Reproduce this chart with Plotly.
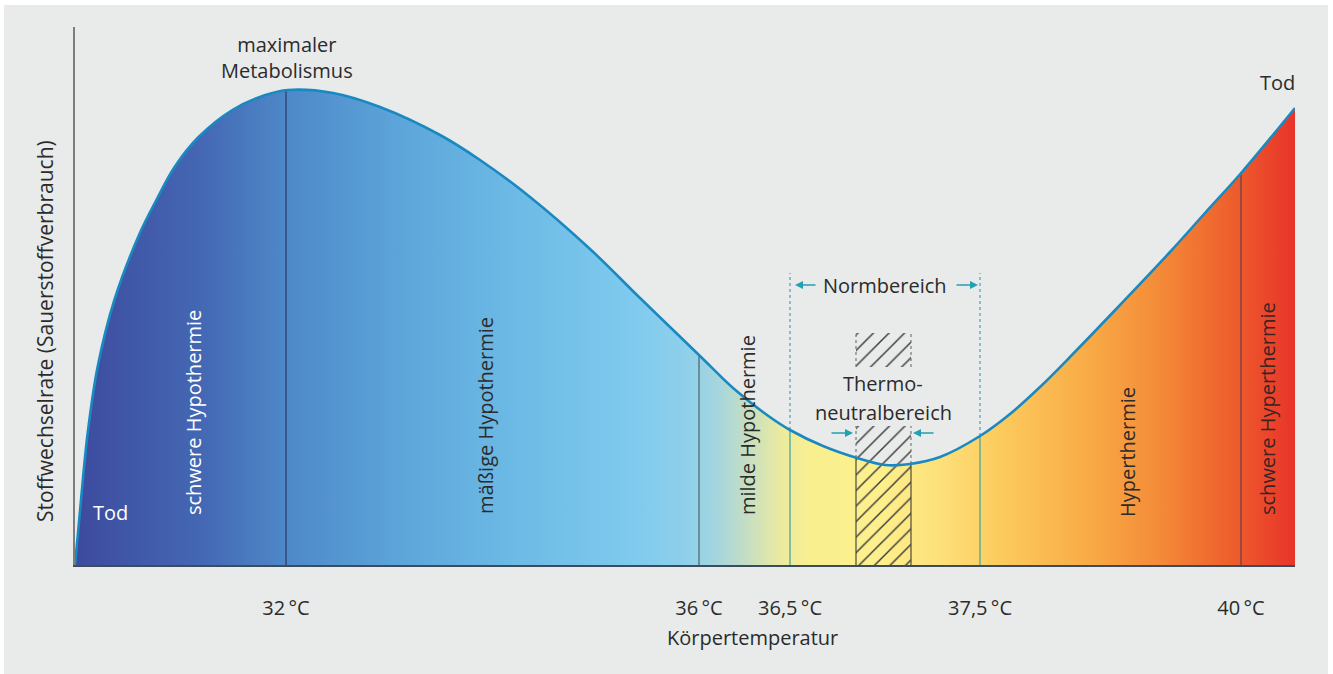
import plotly.graph_objects as go

# ---- data (schematic units: position along temperature axis, metabolic rate) ----
curve_pos = [0, 3, 6, 12.7, 22.6, 39.4, 64.9, 81.4, 99.6, 123.6, 157.4, 190.4, 213, 258, 305, 365,
             405, 455, 515, 565, 625, 658, 692, 715, 748, 782, 810, 835, 865, 905, 935, 965, 995,
             1045, 1095, 1130, 1167, 1220]
curve_rate = [0, 32, 65, 132, 198, 265, 332, 365, 398, 428, 455, 470, 475, 472, 458, 430,
              405, 368, 316, 267, 209, 177, 150, 135, 119, 107, 100, 101, 108, 129, 151, 178, 208,
              260, 313, 352, 393, 457]

temp_pos = [211, 624, 715, 905, 1166]
temp_labels = ["32\u2009°C", "36\u2009°C", "36,5\u2009°C", "37,5\u2009°C", "40\u2009°C"]
temp_line_top = [475, 209, 135, 129, 393]
temp_line_colors = ["#2e3f66", "#4f6a72", "#45a8a3", "#45a8a3", "#6a4545"]
tick_bottom = -20

norm_pos = [715, 905]
norm_top = 292
norm_curve = [135, 129]

tn_x = [781, 836]
tn_lower = [0, 139]
tn_upper = [198, 232]
tn_curve = [107, 101]

fill_stops = [0.0, 0.102, 0.173, 0.266, 0.365, 0.463, 0.504, 0.529, 0.553, 0.578, 0.602,
              0.66, 0.709, 0.758, 0.824, 0.889, 0.947, 1.0]
fill_colors = ["#3d4a9e", "#4467b3", "#4e88c8", "#5ca5da", "#6dbbe6", "#80cbee", "#90d0ea",
               "#a8d6dc", "#c8dfc0", "#eaeaa0", "#f9ef90", "#fdf08c", "#fde07a", "#fccb5e",
               "#f9ae48", "#f48b38", "#ee5f2c", "#e8342a"]

FONT = "Open Sans"
DARK = "#2b2b2b"
TEAL = "#22a0b4"

fig = go.Figure()

# gradient fill under the curve
fig.add_trace(go.Scatter(
    x=curve_pos, y=curve_rate, mode="lines", line=dict(width=0, shape="spline", smoothing=1.0),
    fill="tozeroy",
    fillgradient=dict(type="horizontal", colorscale=[[s, c] for s, c in zip(fill_stops, fill_colors)]),
    hoverinfo="skip", showlegend=False))

# temperature marker lines (incl. tick below axis)
for p, top, col in zip(temp_pos, temp_line_top, temp_line_colors):
    fig.add_trace(go.Scatter(x=[p, p], y=[tick_bottom, top], mode="lines",
                             line=dict(color=col, width=1.3), cliponaxis=False,
                             hoverinfo="skip", showlegend=False))

# Normbereich dotted lines
for p, c in zip(norm_pos, norm_curve):
    fig.add_trace(go.Scatter(x=[p, p], y=[c, norm_top], mode="lines",
                             line=dict(color="#6fb3c4", width=1.6, dash="dot"),
                             hoverinfo="skip", showlegend=False))

# thermoneutral hatched zone (two hatched boxes, interrupted by the label)
for lo, hi in [tn_lower, tn_upper]:
    fig.add_trace(go.Scatter(
        x=[tn_x[0], tn_x[1], tn_x[1], tn_x[0], tn_x[0]], y=[lo, lo, hi, hi, lo],
        mode="lines", line=dict(width=0), fill="toself", fillcolor="rgba(0,0,0,0)",
        fillpattern=dict(shape="/", size=11, solidity=0.13, fgcolor="#3a3a3a", fillmode="replace"),
        hoverinfo="skip", showlegend=False))
for p, c in zip(tn_x, tn_curve):
    fig.add_trace(go.Scatter(x=[p, p], y=[0, c], mode="lines", line=dict(color="#4a4a3a", width=1.2),
                             hoverinfo="skip", showlegend=False))
    fig.add_trace(go.Scatter(x=[p, p], y=[c, tn_lower[1]], mode="lines",
                             line=dict(color="#777777", width=1.2, dash="dot"),
                             hoverinfo="skip", showlegend=False))
    fig.add_trace(go.Scatter(x=[p, p], y=tn_upper, mode="lines",
                             line=dict(color="#777777", width=1.2, dash="dot"),
                             hoverinfo="skip", showlegend=False))

# curve outline
fig.add_trace(go.Scatter(
    x=curve_pos, y=curve_rate, mode="lines",
    line=dict(color="#1a89c2", width=2.6, shape="spline", smoothing=1.0),
    hoverinfo="skip", showlegend=False))

ann = []
def txt(x, y, t, color=DARK, angle=0, xref="x", yref="y", size=20):
    ann.append(dict(x=x, y=y, xref=xref, yref=yref, text=t, showarrow=False, textangle=angle,
                    font=dict(family=FONT, size=size, color=color), xanchor="center", yanchor="middle"))

txt(212, 508, "maximaler<br>Metabolismus")
txt(1202, 483, "Tod")
txt(35, 53, "Tod", color="white")
txt(118, 152, "schwere Hypothermie", color="white", angle=-90)
txt(410, 149, "mäßige Hypothermie", angle=-90)
txt(672, 140, "milde Hypothermie", angle=-90)
txt(1052, 113, "Hyperthermie", angle=-90)
txt(1192, 156, "schwere Hyperthermie", color="#3a2424", angle=-90)
txt(810, 280, "Normbereich")
txt(808, 182, "Thermo-")
txt(808, 153, "neutralbereich")
txt(-0.0246, 234, "Stoffwechselrate (Sauerstoffverbrauch)", xref="paper", angle=-90, size=21)
txt(677, -0.134, "Körpertemperatur", yref="paper")

def arrow(head, tail, y):
    ann.append(dict(x=head, y=y, ax=tail, ay=y, xref="x", yref="y", axref="x", ayref="y",
                    showarrow=True, arrowhead=2, arrowsize=1, arrowwidth=1.6, arrowcolor=TEAL, text=""))

arrow(720, 742, 280)
arrow(903, 880, 280)
arrow(778, 755, 132)
arrow(838, 860, 132)

fig.update_layout(
    width=1333, height=674, autosize=False,
    margin=dict(l=75, r=38, t=27, b=109, pad=0),
    paper_bgcolor="white", plot_bgcolor="rgba(0,0,0,0)",
    showlegend=False,
    annotations=ann,
    shapes=[dict(type="rect", xref="paper", yref="paper", x0=-0.0582, x1=1.027, y0=-0.21, y1=1.0409,
                 fillcolor="#e8ebea", line=dict(width=0), layer="below")],
    xaxis=dict(range=[0, 1220], showgrid=False, zeroline=False, showline=True, linecolor="#3d4c5c",
               linewidth=1.6, tickmode="array", tickvals=temp_pos, ticktext=temp_labels,
               ticks="outside", ticklen=24, tickcolor="rgba(0,0,0,0)",
               tickfont=dict(family=FONT, size=20, color=DARK)),
    yaxis=dict(range=[0, 538], showgrid=False, zeroline=False, showline=True, linecolor="#7d7d7d",
               linewidth=1.6, showticklabels=False, ticks=""),
)

fig.write_html("out.html", config={"displayModeBar": False},
               post_script="document.body.style.margin='0px';")
